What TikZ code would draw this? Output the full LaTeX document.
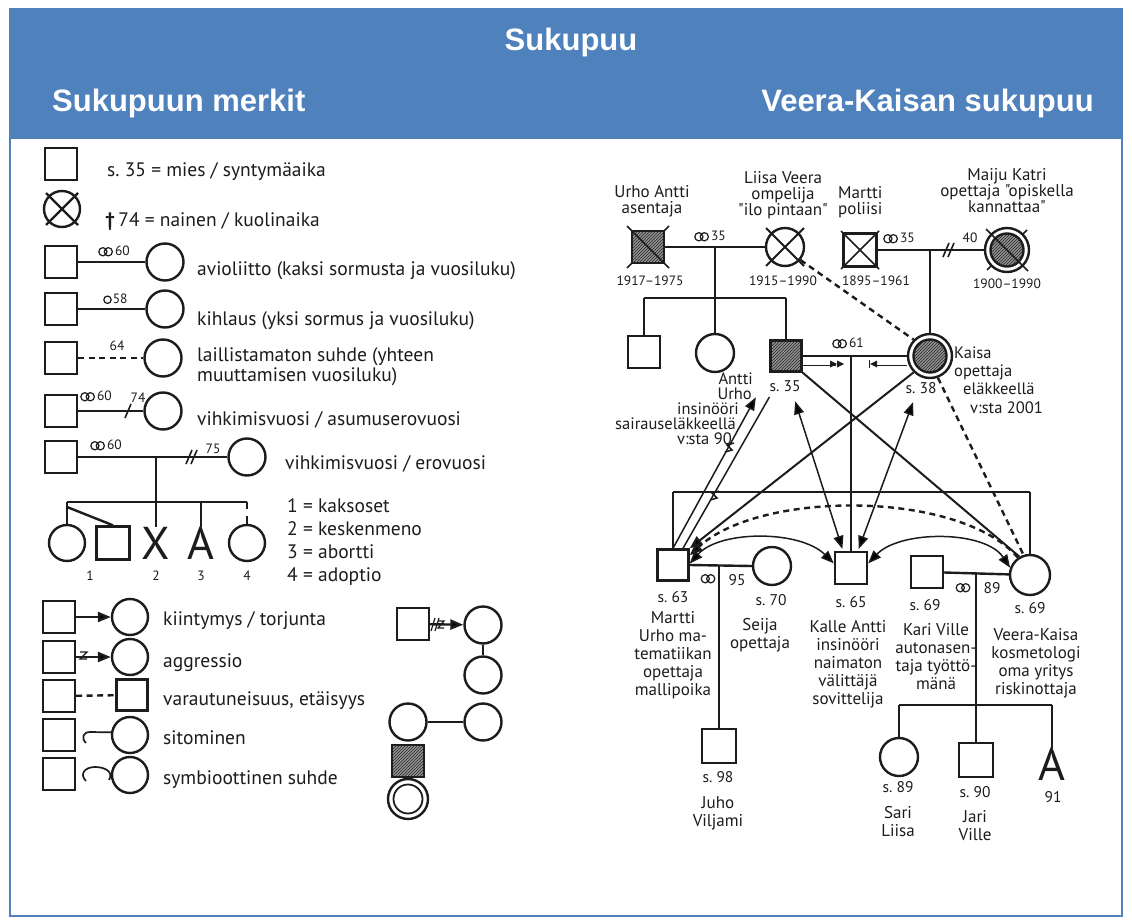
\documentclass[tikz,border=0pt]{standalone}
\usepackage{fontspec}
\usetikzlibrary{arrows.meta,patterns}
\newfontfamily\scanfont{PT Sans}
\newfontfamily\headfont{Liberation Sans}
\definecolor{hdrblue}{RGB}{79,129,189}
\definecolor{hdrdark}{RGB}{60,98,145}
\definecolor{ink}{RGB}{28,28,28}
\newcommand\legfont{\scanfont\fontsize{19.5}{19}\selectfont\frenchspacing}
\newcommand\treefont{\scanfont\fontsize{17}{18}\selectfont\frenchspacing}
\newcommand\topfont{\scanfont\fontsize{17}{16}\selectfont\frenchspacing}
\newcommand\kafont{\scanfont\fontsize{16.5}{16}\selectfont\frenchspacing}
\newcommand\slfont{\scanfont\fontsize{15.5}{16}\selectfont\frenchspacing}
\newcommand\smfont{\scanfont\fontsize{13.5}{15}\selectfont\frenchspacing}
\newcommand\bigletter{\scanfont\fontsize{46}{46}\selectfont}
\newcommand\ringsym{\tikz[baseline=-4pt,x=1pt,y=1pt]{\draw[draw=ink,line width=1.2pt] (0,0) circle (4.1pt) (5.4,0) circle (4.1pt);}\hspace{2pt}}
\newcommand\onering{\tikz[baseline=-4pt,x=1pt,y=1pt]{\draw[draw=ink,line width=1.2pt] (0,0) circle (3.7pt);}\hspace{1pt}}
\begin{document}
\frenchspacing
\begin{tikzpicture}[x=1pt,y=-1pt,
  sq/.style={draw=ink,line width=2.4pt,rectangle,minimum size=32pt,inner sep=0pt,fill=white},
  ci/.style={draw=ink,line width=2.4pt,circle,minimum size=37pt,inner sep=0pt,fill=white},
  ln/.style={draw=ink,line width=2.4pt},
  thn/.style={draw=ink,line width=1.5pt},
  dsh/.style={draw=ink,line width=2.4pt,dash pattern=on 6pt off 4.5pt},
  arr/.style={-{Triangle[length=13pt,width=10pt]}},
  arrs/.style={{Triangle[length=13pt,width=10pt]}-{Triangle[length=13pt,width=10pt]}},
  leg/.style={font=\legfont,text=ink,inner sep=0pt,anchor=west,text height=14pt,text depth=0pt},
  tl/.style={font=\treefont,text=ink,inner sep=0pt,align=center,anchor=north},
  tp/.style={font=\topfont,text=ink,inner sep=0pt,align=center,anchor=north},
  kal/.style={font=\kafont,text=ink,inner sep=0pt,text height=12pt,text depth=0pt},
  sl/.style={font=\slfont,text=ink,inner sep=0pt,text height=11pt,text depth=0pt},
  sm/.style={font=\smfont,text=ink,inner sep=0pt,text height=9.5pt,text depth=0pt},
  hatch/.style={fill=black!42,postaction={pattern=north east lines,pattern color=black!85}},
  lett/.style={font=\bigletter,text=ink,inner sep=0pt,text height=32pt,text depth=0pt}]
\useasboundingbox (0,0) rectangle (1132,920);
\fill[white] (0,0) rectangle (1132,920);
% ---------------- header
\fill[hdrblue] (10,9) rectangle (1122,139);
\draw[hdrdark,line width=2pt] (10,9) -- (1122,9);
\draw[hdrblue,line width=2.5pt] (10,9) rectangle (1122,916);
\node[text=white,font=\headfont\bfseries\fontsize{31}{36}\selectfont,inner sep=0pt] (ttl) at (571,42) {Sukupuu};
\node[text=white,font=\headfont\bfseries\fontsize{31}{36}\selectfont,inner sep=0pt,anchor=west] (hl) at (52,103) {Sukupuun merkit};
\node[text=white,font=\headfont\bfseries\fontsize{31}{36}\selectfont,inner sep=0pt,anchor=east] (hr) at (1094,103) {Veera-Kaisan sukupuu};
% ---------------- legend (left)
\node[sq] (l1) at (61,164) {};
\node[leg] (t1) at (107,170) {s. 35 = mies / syntymäaika};
\node[ci,minimum size=36pt] (l2) at (62,209) {};
\draw[ln] ([shift={(-16,-16)}]l2.center) -- ([shift={(16,16)}]l2.center);
\draw[ln] ([shift={(16,-16)}]l2.center) -- ([shift={(-16,16)}]l2.center);
\node[leg] (t2) at (105,219) {{\bfseries †}\,74 = nainen / kuolinaika};
% marriage
\node[sq] (l3a) at (61,262) {};
\node[ci] (l3b) at (165,262) {};
\draw[ln] (l3a) -- (l3b);
\node[sm,anchor=west] (n3) at (98,251) {\ringsym 60};
\node[leg] (t3) at (197,268) {avioliitto (kaksi sormusta ja vuosiluku)};
% engagement
\node[sq] (l4a) at (61,309) {};
\node[ci] (l4b) at (165,309) {};
\draw[ln] (l4a) -- (l4b);
\node[sm,anchor=west] (n4) at (103,299) {\onering 58};
\node[leg] (t4) at (197,318) {kihlaus (yksi sormus ja vuosiluku)};
% unmarried
\node[sq] (l5a) at (61,358) {};
\node[ci] (l5b) at (163,358) {};
\draw[dsh] (l5a) -- (l5b);
\node[sm] (n5) at (117,346) {64};
\node[leg] (t5a) at (197,354) {laillistamaton suhde (yhteen};
\node[leg] (t5b) at (197,374) {muuttamisen vuosiluku)};
% separation
\node[sq] (l6a) at (61,411) {};
\node[ci] (l6b) at (163,411) {};
\draw[ln] (l6a) -- (l6b);
\draw[ln,line width=1.6pt] (125,418) -- (131,404);
\node[sm,anchor=west] (n6) at (80,396) {\ringsym 60};
\node[sm] (n6b) at (138,398) {74};
\node[leg] (t6) at (197,418) {vihkimisvuosi / asumuserovuosi};
% divorce + children
\node[sq] (l7a) at (61,457) {};
\node[ci] (l7b) at (247,457) {};
\draw[ln] (l7a) -- (l7b);
\draw[ln,line width=1.6pt] (186,464) -- (192,450);
\draw[ln,line width=1.6pt] (191,464) -- (197,450);
\node[sm,anchor=west] (n7) at (90,445) {\ringsym 60};
\node[sm] (n7b) at (213,449) {75};
\node[leg] (t7) at (285,462) {vihkimisvuosi / erovuosi};
\coordinate (d7) at (156,457);
\coordinate (s1) at (67,502);
\coordinate (s2) at (247,502);
\node[ci,minimum size=36pt] (k1) at (67,543) {};
\node[sq,minimum size=33pt] (k2) at (113,543) {};
\node[lett] (k3) at (156,543) {X};
\node[lett] (k4) at (201,543) {A};
\node[ci,minimum size=36pt] (k5) at (247,543) {};
\draw[ln] (s1) -- (s2);
\draw[ln] (d7) -- (k3.north);
\draw[ln] (s1) -- (k1.north);
\draw[ln] (67,507) -- (k2.north);
\draw[ln] (k4.north |- s1) -- (k4.north);
\draw[ln,dash pattern=on 7pt off 7pt on 9pt] (s2) -- (k5.north);
\node[sm] (q1) at (90,576) {1};
\node[sm] (q2) at (156,576) {2};
\node[sm] (q3) at (201,576) {3};
\node[sm] (q4) at (247,576) {4};
\node[leg] (u1) at (287,505) {1 = kaksoset};
\node[leg] (u2) at (287,528) {2 = keskenmeno};
\node[leg] (u3) at (287,551) {3 = abortti};
\node[leg] (u4) at (287,574) {4 = adoptio};
% emotional relations
\node[sq] (ra1) at (59,617) {};
\node[ci,minimum size=36pt] (ra2) at (130,617) {};
\draw[ln,arr] (ra1) -- (ra2);
\node[leg] (v1) at (163,618) {kiintymys / torjunta};
\node[sq] (rb1) at (59,657) {};
\node[ci,minimum size=36pt] (rb2) at (130,657) {};
\draw[ln,arr] (rb1) -- (rb2);
\draw[ink,line width=1.3pt] (80,652) -- (87,652) -- (80,659) -- (87,659);
\node[leg] (v2) at (163,660) {aggressio};
\node[sq] (rc1) at (59,696) {};
\node[sq,minimum size=31pt] (rc2) at (132,695) {};
\draw[dsh] (rc1) -- (rc2);
\node[leg] (v3) at (163,698) {varautuneisuus, etäisyys};
\node[sq] (rd1) at (59,735) {};
\node[ci,minimum size=36pt] (rd2) at (130,735) {};
\draw[ink,line width=1.7pt] (rd2.172) -- (90,732) .. controls (83,732) and (81,738) .. (86,743);
\node[leg] (v4) at (163,737) {sitominen};
\node[sq] (re1) at (59,774) {};
\node[ci,minimum size=36pt] (re2) at (130,775) {};
\draw[ink,line width=1.7pt] (86,781) .. controls (79,774) and (85,767) .. (95,767) .. controls (105,767) and (114,772) .. (109,780);
\node[leg] (v5) at (163,777) {symbioottinen suhde};
% right legend column
\node[sq] (rx1) at (413,624) {};
\node[ci] (rx2) at (483,625) {};
\draw[ln,arr] (rx1) -- (rx2);
\draw[ink,line width=1.2pt] (431,631) -- (435,618);
\draw[ink,line width=1.2pt] (435,631) -- (439,618);
\draw[ink,line width=1.2pt] (438,621) -- (444,621) -- (438,628) -- (444,628);
\node[ci] (rx3) at (483,675) {};
\draw[ln] (rx2) -- (rx3);
\node[ci] (rx4) at (408,722) {};
\node[ci] (rx5) at (483,722) {};
\draw[ln] (rx4) -- (rx5);
\node[sq,hatch] (rx6) at (408,761) {};
\node[ci,minimum size=40pt] (rx7) at (408,799) {};
\draw[ln,line width=1.8pt] (rx7.center) circle (14.5);
% ---------------- family tree: grandparents
\node[sq,hatch] (ua) at (648,247) {};
\draw[ln,line width=1.7pt] ([shift={(-21,-21)}]ua.center) -- ([shift={(21,21)}]ua.center);
\draw[ln,line width=1.7pt] ([shift={(16,-16)}]ua.center) -- ([shift={(21,-21)}]ua.center);
\draw[ln,line width=1.7pt] ([shift={(-16,16)}]ua.center) -- ([shift={(-21,21)}]ua.center);
\node[ci,minimum size=38pt] (lv) at (785,247) {};
\draw[ln,line width=1.8pt] ([shift={(-19,-19)}]lv.center) -- ([shift={(19,19)}]lv.center);
\draw[ln,line width=1.8pt] ([shift={(19,-19)}]lv.center) -- ([shift={(-19,19)}]lv.center);
\node[sq,minimum size=33pt] (ma) at (860,250) {};
\draw[ln,line width=1.7pt] ([shift={(-19,-19)}]ma.center) -- ([shift={(19,19)}]ma.center);
\draw[ln,line width=1.7pt] ([shift={(19,-19)}]ma.center) -- ([shift={(-19,19)}]ma.center);
\node[ci,minimum size=44pt] (mk) at (1007,250) {};
\draw[ln,hatch] (mk.center) circle (16.5);
\draw[ln,line width=1.7pt] ([shift={(-21,-21)}]mk.center) -- ([shift={(21,21)}]mk.center);
\draw[ln,line width=1.7pt] ([shift={(15,-15)}]mk.center) -- ([shift={(20,-20)}]mk.center);
\draw[ln,line width=1.7pt] ([shift={(-15,15)}]mk.center) -- ([shift={(-20,20)}]mk.center);
\node[tp] (ual) at (652,185) {Urho Antti\\asentaja};
\node[tp] (lvl) at (783,171) {Liisa Veera\\ompelija\\"ilo pintaan"};
\node[tp,align=left,anchor=north west] (mal) at (838,186) {Martti\\poliisi};
\node[tp] (mkl) at (1007,168) {Maiju Katri\\opettaja "opiskella\\kannattaa"};
\node[sm] (y1) at (650,281) {1917–1975};
\node[sm] (y2) at (783,281) {1915–1990};
\node[sm] (y3) at (876,281) {1895–1961};
\node[sm] (y4) at (1007,284) {1900–1990};
% marriage Urho Antti - Liisa Veera
\draw[ln] (ua) -- (lv);
\node[sm,anchor=west] (r1) at (694,236) {\ringsym 35};
\coordinate (uad) at (715,247);
\coordinate (uas) at (715,298);
\draw[ln] (uad) -- (uas);
\node[sq] (c1) at (644,352) {};
\node[ci,minimum size=38pt] (c2) at (715,353) {};
\node[sq,hatch,minimum size=31pt] (au) at (786,356) {};
\draw[ln] (c1.north |- uas) -- (au.north |- uas);
\draw[ln] (c1.north |- uas) -- (c1.north);
\draw[ln] (uas) -- (c2.north);
\draw[ln] (au.north |- uas) -- (au.north);
% marriage Martti - Maiju Katri
\draw[ln] (ma) -- (mk);
\node[sm,anchor=west] (r2) at (883,238) {\ringsym 35};
\draw[ln,line width=1.6pt] (943,257) -- (949,243);
\draw[ln,line width=1.6pt] (948,257) -- (954,243);
\node[sm] (n40) at (970,238) {40};
\coordinate (mad) at (930,250);
\node[ci,minimum size=44pt] (ka) at (930,356) {};
\draw[ln,hatch] (ka.center) circle (16.5);
\draw[ln] (mad) -- (ka.north);
% marriage Antti - Kaisa
\draw[ln] (au) -- (ka);
\node[sm,anchor=west] (r3) at (832,343) {\ringsym 61};
\coordinate (akd) at (851,356);
\draw[ink,line width=0.6pt,double,double distance=1.8pt] (au.east |- 0,364) -- (836,364);
\fill[ink] (830,360.5) -- (837,364) -- (830,367.5) -- cycle;
\fill[ink] (837,360.5) -- (844,364) -- (837,367.5) -- cycle;
\draw[ink,line width=0.6pt,double,double distance=1.8pt] (876,364) -- (ka.west |- 0,364);
\fill[ink] (877,360.5) -- (870,364) -- (877,367.5) -- cycle;
\draw[ink,line width=1pt] (869,360) -- (869,368);
% labels of Antti and Kaisa
\node[kal,anchor=east] (an1) at (753,378) {Antti};
\node[kal,anchor=east] (an2) at (752,393) {Urho};
\node[kal,anchor=east] (an3) at (739,408) {insinööri};
\node[kal,anchor=east] (an4) at (736,423) {sairauseläkkeellä};
\node[kal,anchor=east] (an5) at (732,438) {v:sta 90};
\node[sl] (s35) at (785,386) {s. 35};
\node[kal,anchor=west] (ka1) at (954,352) {Kaisa};
\node[kal,anchor=west] (ka2) at (954,370) {opettaja};
\node[kal,anchor=west] (ka3) at (963,388) {eläkkeellä};
\node[kal,anchor=west] (ka4) at (970,407) {v:sta 2001};
\node[sl] (s38) at (921,388) {s. 38};
% ---------------- children generation
\node[sq,minimum size=31pt] (mt) at (673,565) {};
\node[ci,minimum size=38pt] (se) at (772,566) {};
\node[sq] (kl) at (851,568) {};
\node[sq] (kv) at (927,572) {};
\node[ci,minimum size=40pt] (vk) at (1030,575) {};
\coordinate (sib) at (851,492);
\draw[ln] (mt.north |- sib) -- (vk.north |- sib);
\draw[ln] (mt.north |- sib) -- (mt.north);
\draw[ln] (vk.north |- sib) -- (vk.north);
\draw[ln] (akd) -- (kl.north);
% marriage Martti - Seija
\draw[ln] (mt.east) -- (se.west);
\node[sm] (r4) at (708,578) {\ringsym};
\node[sl] (n95) at (737,580) {95};
\coordinate (msd) at (719,565);
\node[sq,minimum size=34pt] (jv) at (719,746) {};
\draw[ln] (msd) -- (jv.north);
% marriage Kari - Veera-Kaisa
\draw[ln] (kv) -- (vk);
\node[sm] (r5) at (963,587) {\ringsym};
\node[sl] (n89) at (992,588) {89};
\coordinate (kvd) at (976,574);
\coordinate (sb2) at (976,705);
\node[ci,minimum size=38pt] (sl) at (899,757) {};
\node[sq,minimum size=34pt] (jr) at (976,760) {};
\node[lett] (ab) at (1052,764) {A};
\draw[ln] (kvd) -- (jr.north);
\draw[ln] (sl.north |- sb2) -- (ab.north |- sb2);
\draw[ln] (sl.north |- sb2) -- (sl.north);
\draw[ln] (ab.north |- sb2) -- (ab.north);
% labels children
\node[sl] (s63) at (673,597) {s. 63};
\node[tl] (mtl) at (673,611) {Martti\\Urho ma-\\tematiikan\\opettaja\\mallipoika};
\node[sl] (s70) at (771,600) {s. 70};
\node[tl] (sel) at (760,618) {Seija\\opettaja};
\node[sl] (s65) at (851,602) {s. 65};
\node[tl] (kll) at (848,620) {Kalle Antti\\insinööri\\naimaton\\välittäjä\\sovittelija};
\node[sl] (s69a) at (925,605) {s. 69};
\node[tl] (kvl) at (936,623) {Kari Ville\\autonasen-\\taja työttö-\\mänä};
\node[sl] (s69b) at (1030,608) {s. 69};
\node[tl] (vkl) at (1036,628) {Veera-Kaisa\\kosmetologi\\oma yritys\\riskinottaja};
\node[sl] (s98) at (718,777) {s. 98};
\node[tl] (jvl) at (718,796) {Juho\\Viljami};
\node[sl] (s89) at (898,787) {s. 89};
\node[tl] (sll) at (898,806) {Sari\\Liisa};
\node[sl] (s90) at (975,792) {s. 90};
\node[tl] (jrl) at (975,810) {Jari\\Ville};
\node[sl] (s91) at (1053,797) {91};
% ---------------- relationship lines
\draw[dsh] (lv.-40) -- (ka.135);
\draw[dsh] (ka.-70) -- (vk.108);
\draw[ln,line width=2pt] (au.south east) -- (vk.120);
\draw[ln,line width=2pt,arr] (ka.-135) -- (mt.north east);
\draw[thn,arr,shorten >=28pt] (mt.north) -- (au.south west);
\draw[thn,shorten <=28pt] ([xshift=14pt]au.south west) -- ([xshift=10pt]mt.north);
\draw[thn] (725,452) -- (732,450) -- (727,445) -- (734,443);
\draw[thn] (710,500) -- (717,498) -- (712,493) -- (719,491);
\draw[thn,arrs,shorten <=30pt,shorten >=2pt] (au.south) -- ([xshift=-8pt]kl.north);
\draw[thn,arrs,shorten <=26pt,shorten >=2pt] (ka.-110) -- ([xshift=7pt]kl.north);
\draw[dsh,arr] (vk.125) .. controls (960,490) and (760,490) .. (mt.30);
\draw[thn,arrs] (mt.5) .. controls (720,530) and (800,530) .. (kl.165);
\draw[thn,arrs] (kl.15) .. controls (900,530) and (985,530) .. (vk.160);
\end{tikzpicture}
\end{document}
